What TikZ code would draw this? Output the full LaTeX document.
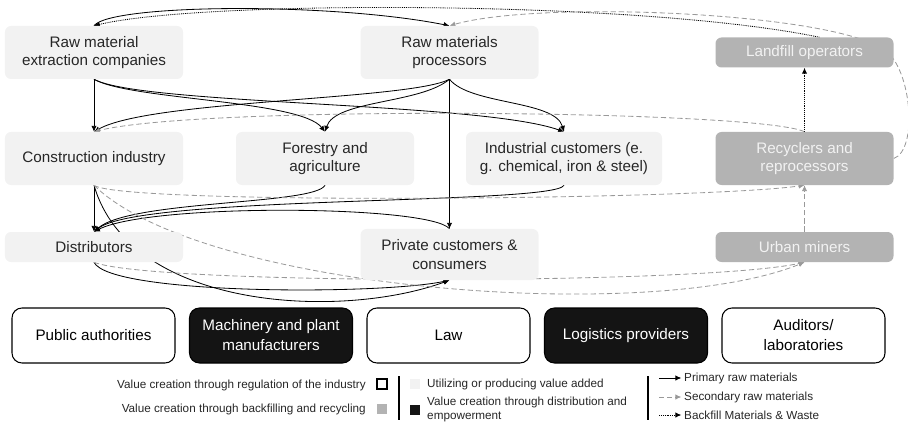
\documentclass[tikz,border=0pt]{standalone}
\usepackage{fontspec}
\setmainfont{Liberation Sans}
\usetikzlibrary{arrows.meta}
\definecolor{BoxLight}{HTML}{F2F2F2}
\definecolor{BoxGray}{HTML}{B3B3B3}
\definecolor{BoxDark}{HTML}{141414}
\definecolor{SecGray}{HTML}{999999}
\definecolor{TextDark}{HTML}{262626}
\pgfdeclarelayer{bg}
\pgfsetlayers{bg,main}

\begin{document}
\begin{tikzpicture}[x=0.03cm,y=-0.03cm,
  actor/.style={rounded corners=0.18cm,fill=BoxLight,text=TextDark,minimum width=5.34cm,minimum height=1.59cm,align=center,inner sep=0pt,font=\fontsize{13}{16}\selectfont},
  circ/.style={actor,fill=BoxGray,text=BoxLight},
  slim/.style={minimum height=0.9cm},
  reg/.style={draw=black,line width=0.9pt,rounded corners=0.3cm,fill=white,text=black,minimum width=4.89cm,minimum height=1.65cm,align=center,inner sep=0pt,font=\fontsize{13}{17}\selectfont},
  dist/.style={reg,fill=BoxDark,text=white},
  legtext/.style={font=\fontsize{10}{12.5}\selectfont,text=TextDark,inner sep=0pt},
  swatch/.style={minimum size=0.31cm,inner sep=0pt},
  prim/.style={-{Latex[length=5pt,width=4.5pt]},line width=0.7pt,black},
  sec/.style={-{Latex[length=5pt,width=4.5pt]},line width=0.7pt,SecGray,dash pattern=on 4.5pt off 2.5pt},
  waste/.style={-{Latex[length=5pt,width=4.5pt]},line width=0.7pt,black,dash pattern=on 0.8pt off 0.8pt}]
\useasboundingbox(0,0)rectangle(908,427);

% actors of the value chain
\node[actor](rec)at(94,52.5){Raw material\\extraction companies};
\node[actor](rmp)at(449.5,52.5){Raw materials\\processors};
\node[circ,slim](lfo)at(804.5,52.5){Landfill operators};
\node[actor](con)at(94,158.5){Construction industry};
\node[actor](frs)at(325,158.5){Forestry and\\agriculture};
\node[actor,minimum width=5.88cm](ind)at(564,158.5){Industrial customers (e.\\g. chemical, iron \& steel)};
\node[circ](rcy)at(804.5,158.5){Recyclers and\\reprocessors};
\node[actor,slim](dis)at(94,247){Distributors};
\node[actor,minimum height=1.53cm](prv)at(449.5,254.5){Private customers \&\\consumers};
\node[circ,slim](urb)at(804.5,247){Urban miners};

% supporting actors
\node[reg](pub)at(93.5,335.5){Public authorities};
\node[dist](mac)at(271,335.5){Machinery and plant\\manufacturers};
\node[reg](law)at(448.5,335.5){Law};
\node[dist](lgp)at(626,335.5){Logistics providers};
\node[reg](aud)at(803.5,335.5){Auditors/\\laboratories};

% flows, kept behind the boxes
\begin{pgfonlayer}{bg}
\draw[prim](rec.north)..controls(110,4)and(330,2)..(rmp.north);
\draw[prim](rec.south)--(con.north);
\draw[prim](rec.south)..controls(130,100)and(300,100)..(frs.north);
\draw[prim](rec.south)..controls(140,105)and(480,102)..(ind.north);
\draw[prim](rmp.south)..controls(410,100)and(150,100)..(con.north);
\draw[prim](rmp.south)..controls(420,104)and(335,100)..(frs.north);
\draw[prim](rmp.south)..controls(470,105)and(555,100)..(ind.north);
\draw[prim](rmp.south)--(prv.north);
\draw[prim](con.south)--(dis.north);
\draw[prim](frs.south)..controls(315,205)and(130,200)..(dis.north);
\draw[prim](ind.south)..controls(555,205)and(140,195)..(dis.north);
\draw[prim](prv.north)..controls(430,205)and(150,203)..(dis.north);
\draw[prim](dis.south)..controls(110,295)and(380,295)..(prv.south);
\draw[prim](con.south)..controls(130,310)and(340,320)..(prv.south);

\draw[sec](rcy.north)..controls(760,110)and(200,105)..(con.north);
\draw[sec](con.south)..controls(120,205)and(700,200)..(rcy.south);
\draw[sec](con.south)..controls(200,290)and(650,325)..(urb.south);
\draw[sec](dis.south)..controls(150,285)and(700,285)..(urb.south);
\draw[sec](urb.north)--(rcy.south);
\draw[sec](rcy.east)..controls(918,150)and(912,70)..(885,50)..controls(830,12)and(540,0)..(rmp.north);

\draw[waste](rcy.north)--(lfo.south);
\draw[waste]([xshift=0.45cm]lfo.north)..controls(640,0)and(200,0)..(rec.north);
\end{pgfonlayer}

% legend
\node[legtext,anchor=east](lg1)at(366,385){Value creation through regulation of the industry};
\node[legtext,anchor=east](lg2)at(366,409){Value creation through backfilling and recycling};
\node[swatch,draw=black,line width=1.2pt,fill=white](sw1)at(382,384){};
\node[swatch,fill=BoxGray](sw2)at(382,409){};
\draw[line width=1.4pt](399,376)--(399,420);
\node[swatch,fill=BoxLight](sw3)at(415,384){};
\node[swatch,fill=BoxDark](sw4)at(415,410){};
\node[legtext,anchor=west](lg3)at(427,384){Utilizing or producing value added};
\node[legtext,anchor=west,align=left](lg4)at(427,409.5){Value creation through distribution and\\empowerment};
\draw[line width=1.4pt](648,376)--(648,420);
\node[legtext,anchor=west](lg5)at(684,378){Primary raw materials};
\node[legtext,anchor=west](lg6)at(684,397){Secondary raw materials};
\node[legtext,anchor=west](lg7)at(684,415){Backfill Materials \& Waste};
\draw[prim]([xshift=-0.75cm]lg5.west)--([xshift=-0.08cm]lg5.west);
\draw[sec]([xshift=-0.75cm]lg6.west)--([xshift=-0.08cm]lg6.west);
\draw[waste]([xshift=-0.75cm]lg7.west)--([xshift=-0.08cm]lg7.west);
\end{tikzpicture}
\end{document}
